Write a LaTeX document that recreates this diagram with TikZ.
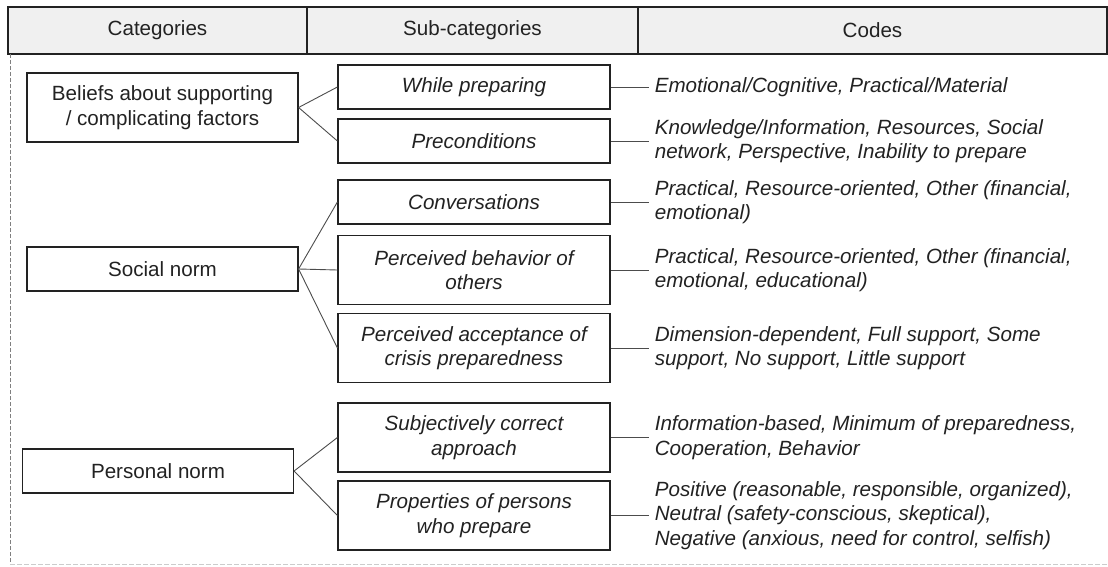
\documentclass[tikz,border=0pt]{standalone}
\usepackage{fontspec}
\setmainfont{Liberation Sans}
\usepackage{xcolor}
\usetikzlibrary{positioning}

\definecolor{hdrgray}{HTML}{F0F0F0}
\definecolor{ink}{HTML}{222222}

\begin{document}
\begin{tikzpicture}[x=1pt, y=-1pt,
  every node/.style={font=\fontsize{20.6}{24.5}\selectfont, text=ink},
  catbox/.style={rectangle, draw=ink, line width=1.2pt, minimum width=271pt, minimum height=44pt, align=center, inner sep=2pt},
  subbox/.style={rectangle, draw=ink, line width=1.2pt, minimum width=272pt, minimum height=44pt, align=center, inner sep=2pt, font=\fontsize{20.6}{24.5}\selectfont\itshape},
  tall/.style={minimum height=69pt},
  codetext/.style={align=left, inner xsep=6pt, inner ysep=0pt, font=\fontsize{20.6}{24.5}\selectfont\itshape},
  hdrcell/.style={rectangle, draw=ink, line width=1.2pt, fill=hdrgray, minimum height=47pt, inner sep=0pt},
  link/.style={draw=black!70, line width=0.9pt}
]
\useasboundingbox (0,0) rectangle (1108,567);

% Header
\node[hdrcell, minimum width=299pt] (hcat) at (157.5,30.5) {Categories};
\node[hdrcell, minimum width=331pt] (hsub) at (472.5,30.5) {Sub-categories};
\node[hdrcell, minimum width=469pt] (hcodes) at (872.5,30.5) {Codes};

% Frame
\draw[black!50, dashed, dash pattern=on 4pt off 2pt, line width=0.8pt] (10,54) -- (10,564);
\draw[black!20, dashed, dash pattern=on 5pt off 2pt, line width=0.8pt] (10,564) -- (1107,564);

% Categories
\node[catbox, tall] (beliefs) at (162.5,107.5) {Beliefs about supporting\\/ complicating factors};
\node[catbox] (social) at (162.5,269) {Social norm};
\node[catbox] (personal) at (158,471) {Personal norm};

% Sub-categories
\node[subbox] (while) at (474,87) {While preparing};
\node[subbox] (precond) at (474,141) {Preconditions};
\node[subbox] (conv) at (474,202) {Conversations};
\node[subbox, tall] (behav) at (474,270) {Perceived behavior of\\others};
\node[subbox, tall] (accept) at (474,348) {Perceived acceptance of\\crisis preparedness};
\node[subbox, tall] (subj) at (474,437.5) {Subjectively correct\\approach};
\node[subbox, tall] (props) at (474,515.5) {Properties of persons\\who prepare};

% Codes
\node[codetext, right=38pt of while] (cwhile) {Emotional/Cognitive, Practical/Material};
\node[codetext, right=38pt of precond] (cprecond) {Knowledge/Information, Resources, Social\\network, Perspective, Inability to prepare};
\node[codetext, right=38pt of conv] (cconv) {Practical, Resource-oriented, Other (financial,\\emotional)};
\node[codetext, right=38pt of behav] (cbehav) {Practical, Resource-oriented, Other (financial,\\emotional, educational)};
\node[codetext, right=38pt of accept] (caccept) {Dimension-dependent, Full support, Some\\support, No support, Little support};
\node[codetext, right=38pt of subj] (csubj) {Information-based, Minimum of preparedness,\\Cooperation, Behavior};
\node[codetext, right=38pt of props] (cprops) {Positive (reasonable, responsible, organized),\\Neutral (safety-conscious, skeptical),\\Negative (anxious, need for control, selfish)};

% Connections
\draw[link] (beliefs.east) -- (while.west);
\draw[link] (beliefs.east) -- (precond.west);
\draw[link] (social.east) -- (conv.west);
\draw[link] (social.east) -- (behav.west);
\draw[link] (social.east) -- (accept.west);
\draw[link] (personal.east) -- (subj.west);
\draw[link] (personal.east) -- (props.west);
\draw[link] (while.east) -- (cwhile.west);
\draw[link] (precond.east) -- (cprecond.west);
\draw[link] (conv.east) -- (cconv.west);
\draw[link] (behav.east) -- (cbehav.west);
\draw[link] (accept.east) -- (caccept.west);
\draw[link] (subj.east) -- (csubj.west);
\draw[link] (props.east) -- (cprops.west);
\end{tikzpicture}
\end{document}
